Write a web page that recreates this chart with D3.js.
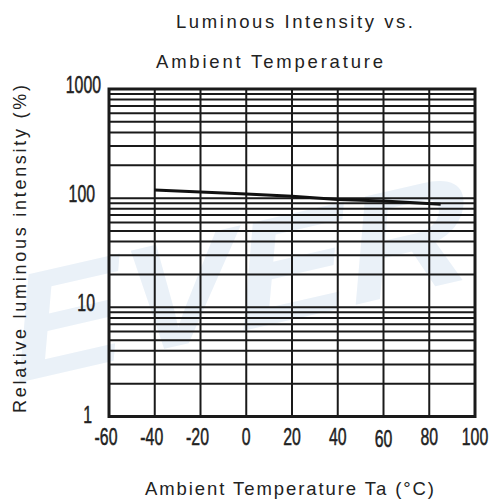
<!DOCTYPE html>
<html lang="en">
<meta charset="utf-8">
<head>
    <script src="https://d3js.org/d3.v7.min.js"></script>
    <style>
        body { margin: 0; background: #fff; }
        text { fill: #222; }
    </style>
</head>
<body>
<div id="chart"></div>
<script>

// data
const temps = [-40, 0, 20, 40, 60, 85]
const intensity = [119, 109, 104, 97, 94, 88]

const xTicks = [-60, -40, -20, 0, 20, 40, 60, 80, 100]
const yTicks = [1, 10, 100, 1000]

// size of the page and the plot box
const width = 494,
    height = 503;
const plotL = 109, plotR = 475, plotT = 89, plotB = 416.5;

const svg = d3.select("#chart")
    .append("svg")
    .attr("width", width)
    .attr("height", height);

// faint watermark behind everything
svg.append("text")
    .attr("transform", "translate(8,385) rotate(-13) skewX(-18)")
    .attr("font-family", "Liberation Sans, Arial, sans-serif")
    .attr("font-weight", "bold")
    .attr("font-size", 150)
    .attr("textLength", 470)
    .attr("lengthAdjust", "spacingAndGlyphs")
    .style("fill", "#eaf1f8")
    .text("EVER");

const x = d3.scaleLinear()
    .domain([-60, 100])
    .range([plotL, plotR]);

const y = d3.scaleLog()
    .domain([1, 1000])
    .range([plotB, plotT]);

// horizontal grid: 1..9 in every decade
const minor = [];
[1, 10, 100].forEach(function(d) {
    for (let k = 2; k <= 9; k++) minor.push(k * d);
});

const grid = svg.append("g")
    .attr("stroke", "#1a1a1a")
    .attr("stroke-width", 2);

grid.selectAll("line.h")
    .data(minor.concat([10, 100]))
    .join("line")
    .attr("class", "h")
    .attr("x1", plotL)
    .attr("x2", plotR)
    .attr("y1", d => y(d))
    .attr("y2", d => y(d));

grid.selectAll("line.v")
    .data(xTicks.slice(1, -1))
    .join("line")
    .attr("class", "v")
    .attr("x1", d => x(d))
    .attr("x2", d => x(d))
    .attr("y1", plotT)
    .attr("y2", plotB);

// outer frame
svg.append("rect")
    .attr("x", plotL)
    .attr("y", plotT)
    .attr("width", plotR - plotL)
    .attr("height", plotB - plotT)
    .attr("fill", "none")
    .attr("stroke", "#1a1a1a")
    .attr("stroke-width", 3);

// the curve
const line = d3.line()
    .x((d, i) => x(temps[i]))
    .y(d => y(d));

svg.append("path")
    .datum(intensity)
    .attr("d", line)
    .attr("fill", "none")
    .attr("stroke", "#111")
    .attr("stroke-width", 3);

// tick labels: tall narrow digits, squeezed horizontally
const tickFont = "Liberation Sans, Arial, sans-serif";
const squeeze = 0.66;

svg.selectAll("text.xt")
    .data(xTicks)
    .join("text")
    .attr("class", "xt")
    .attr("transform", d => `translate(${x(d) - (d < 0 ? 3 : 0)},${d == 60 ? 447 : 445}) scale(${squeeze},1)`)
    .attr("text-anchor", "middle")
    .attr("font-family", tickFont)
    .attr("font-size", 24)
    .attr("stroke", "#222")
    .attr("stroke-width", 0.5)
    .text(d => d);

svg.selectAll("text.yt")
    .data(yTicks)
    .join("text")
    .attr("class", "yt")
    .attr("transform", d => `translate(${d == 1000 ? 101 : d == 1 ? 92 : 95},${y(d) + (d == 1000 ? 4 : d == 1 ? 6 : 4)}) scale(${squeeze},1)`)
    .attr("text-anchor", "end")
    .attr("font-family", tickFont)
    .attr("font-size", 24)
    .attr("stroke", "#222")
    .attr("stroke-width", 0.5)
    .text(d => d);

// titles
const titleFont = "Liberation Sans, Arial, sans-serif";

svg.append("text")
    .attr("x", 176)
    .attr("y", 28)
    .attr("font-family", titleFont)
    .attr("font-size", 18.5)
    .attr("textLength", 237)
    .attr("lengthAdjust", "spacing")
    .text("Luminous Intensity vs.");

svg.append("text")
    .attr("x", 156)
    .attr("y", 68)
    .attr("font-family", titleFont)
    .attr("font-size", 18.5)
    .attr("textLength", 227)
    .attr("lengthAdjust", "spacing")
    .text("Ambient Temperature");

svg.append("text")
    .attr("x", 145)
    .attr("y", 495)
    .attr("font-family", titleFont)
    .attr("font-size", 18.5)
    .attr("textLength", 289)
    .attr("lengthAdjust", "spacing")
    .text("Ambient Temperature Ta (°C)");

svg.append("text")
    .attr("transform", "translate(26,413) rotate(-90)")
    .attr("font-family", titleFont)
    .attr("font-size", 18)
    .attr("textLength", 328)
    .attr("lengthAdjust", "spacing")
    .text("Relative luminous intensity  (%)");

</script>
</body>
</html>
